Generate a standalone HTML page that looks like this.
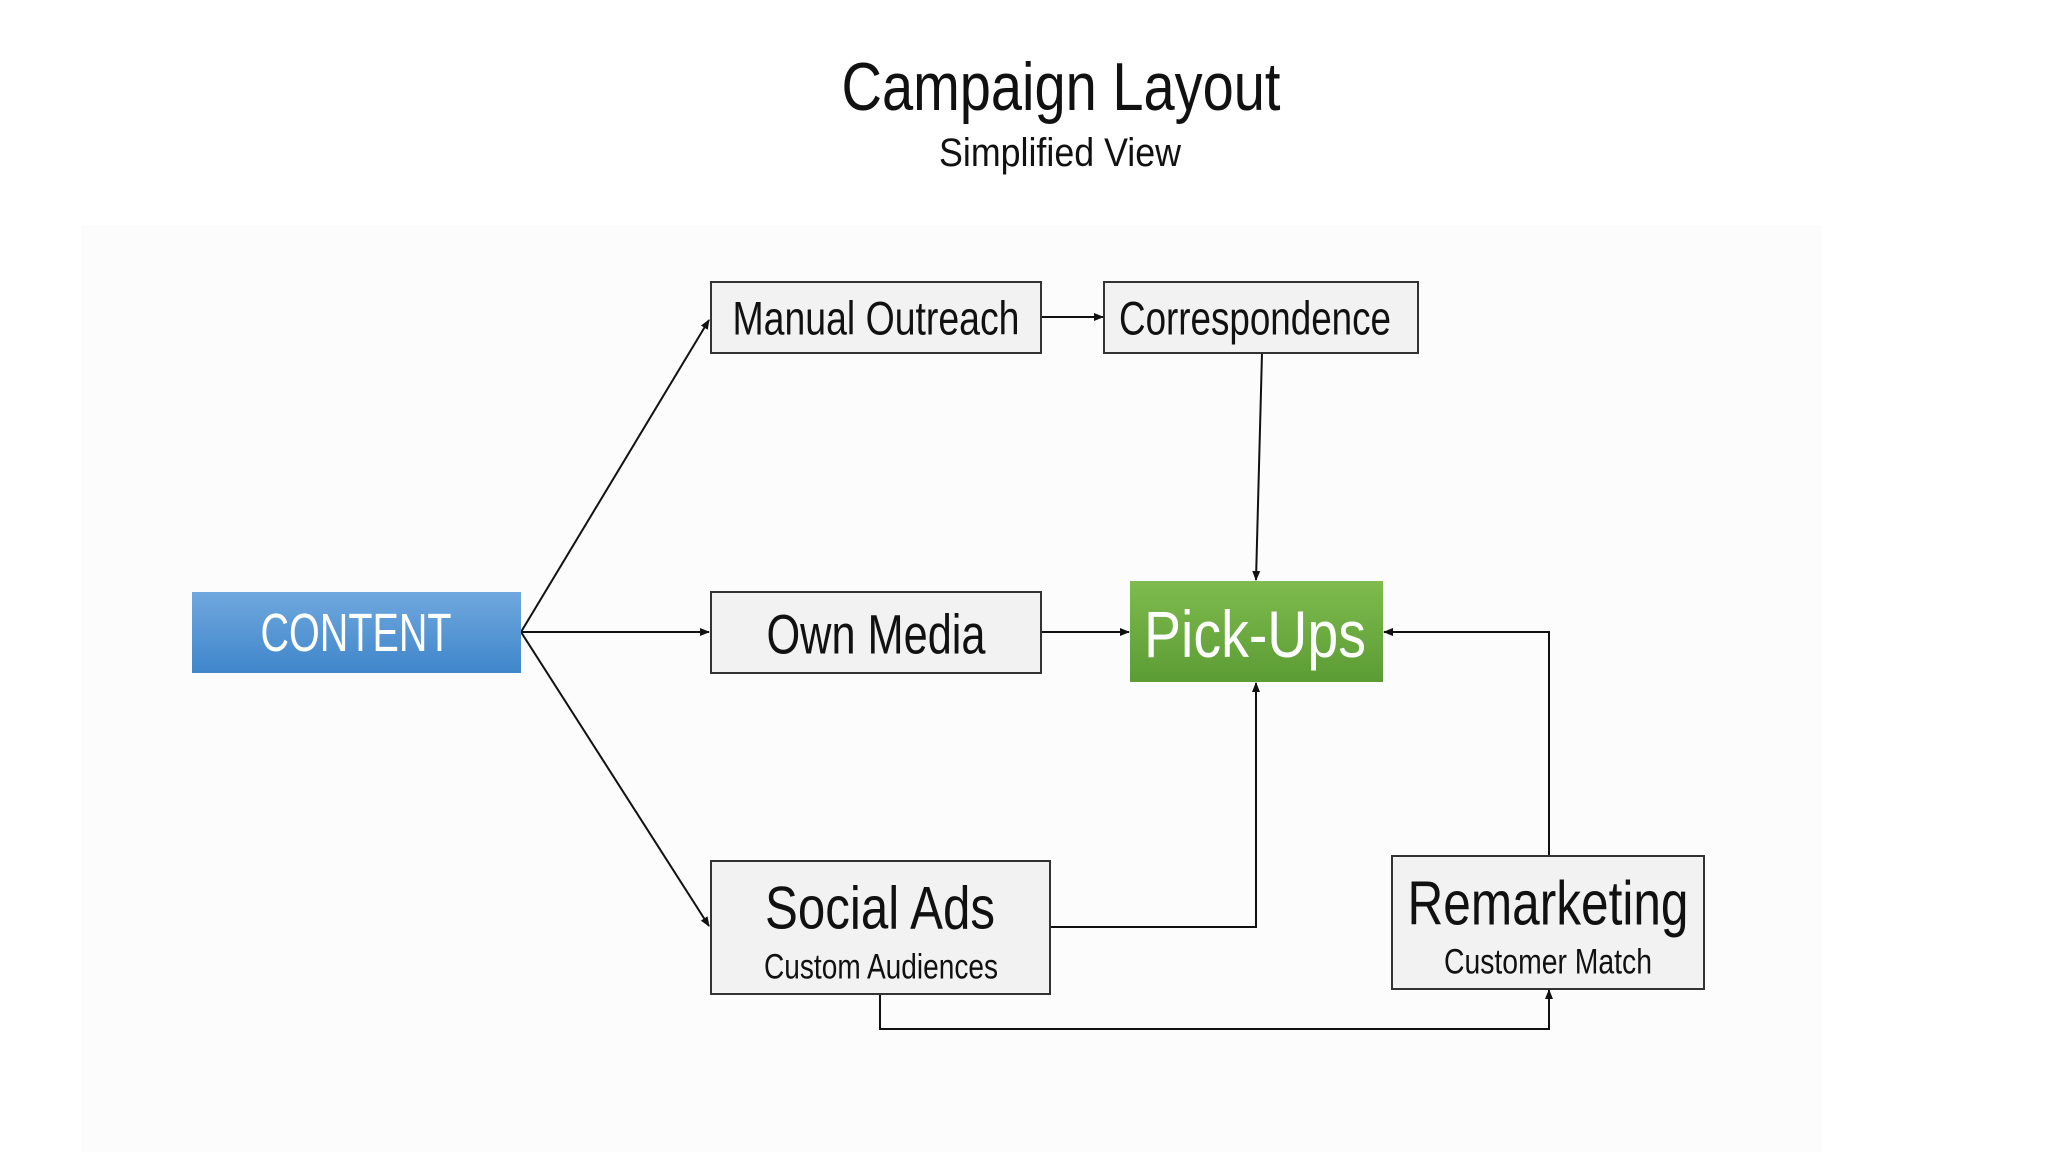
<!DOCTYPE html>
<html><head><meta charset="utf-8"><style>
html,body{margin:0;padding:0;background:#fff;width:2048px;height:1152px;overflow:hidden}
svg{display:block}
text{font-family:"Liberation Sans",sans-serif;dominant-baseline:central;text-anchor:middle}
</style></head><body>
<svg width="2048" height="1152" viewBox="0 0 2048 1152" xmlns="http://www.w3.org/2000/svg">
<defs>
<linearGradient id="blue" x1="0" y1="0" x2="0" y2="1"><stop offset="0" stop-color="#70a8de"/><stop offset="1" stop-color="#3f86cb"/></linearGradient>
<linearGradient id="green" x1="0" y1="0" x2="0" y2="1"><stop offset="0" stop-color="#7fbb4e"/><stop offset="1" stop-color="#5b9c34"/></linearGradient>
<marker id="ar" markerWidth="10" markerHeight="10" refX="9" refY="5" orient="auto" markerUnits="userSpaceOnUse"><path d="M0,1 L10,5 L0,9 z" fill="#111"/></marker>
</defs>
<rect x="0" y="0" width="2048" height="1152" fill="#fff"/>
<rect x="81" y="225" width="1741" height="927" fill="#fcfcfd"/>
<text x="1061" y="87" font-size="68" textLength="439" lengthAdjust="spacingAndGlyphs" fill="#111">Campaign Layout</text>
<text x="1060" y="153" font-size="40" textLength="242" lengthAdjust="spacingAndGlyphs" fill="#111">Simplified View</text>

<g stroke="#111" stroke-width="2" fill="none">
<line x1="521" y1="632" x2="709" y2="320" marker-end="url(#ar)"/>
<line x1="521" y1="632" x2="709" y2="632" marker-end="url(#ar)"/>
<line x1="521" y1="632" x2="709" y2="926" marker-end="url(#ar)"/>
<line x1="1041" y1="317" x2="1103" y2="317" marker-end="url(#ar)"/>
<line x1="1262" y1="353" x2="1256" y2="580" marker-end="url(#ar)"/>
<line x1="1041" y1="632" x2="1129" y2="632" marker-end="url(#ar)"/>
<polyline points="1050,927 1256,927 1256,683" marker-end="url(#ar)"/>
<polyline points="1549,855 1549,632 1384,632" marker-end="url(#ar)"/>
<polyline points="880,994 880,1029 1549,1029 1549,990" marker-end="url(#ar)"/>
</g>

<rect x="192" y="592" width="329" height="81" fill="url(#blue)"/>
<text x="356" y="633" font-size="54" textLength="191" lengthAdjust="spacingAndGlyphs" fill="#fff">CONTENT</text>

<g fill="#f2f2f3" stroke="#333" stroke-width="2">
<rect x="711" y="282" width="330" height="71"/>
<rect x="1104" y="282" width="314" height="71"/>
<rect x="711" y="592" width="330" height="81"/>
<rect x="711" y="861" width="339" height="133"/>
<rect x="1392" y="856" width="312" height="133"/>
</g>
<g fill="#111">
<text x="876" y="318" font-size="47" textLength="287" lengthAdjust="spacingAndGlyphs">Manual Outreach</text>
<text x="1255" y="318" font-size="47" textLength="272" lengthAdjust="spacingAndGlyphs">Correspondence</text>
<text x="876" y="634" font-size="56" textLength="219" lengthAdjust="spacingAndGlyphs">Own Media</text>
<text x="880" y="908" font-size="60" textLength="230" lengthAdjust="spacingAndGlyphs">Social Ads</text>
<text x="881" y="967" font-size="35" textLength="234" lengthAdjust="spacingAndGlyphs">Custom Audiences</text>
<text x="1548" y="904" font-size="62" textLength="281" lengthAdjust="spacingAndGlyphs">Remarketing</text>
<text x="1548" y="962" font-size="35" textLength="208" lengthAdjust="spacingAndGlyphs">Customer Match</text>
</g>

<rect x="1130" y="581" width="253" height="101" fill="url(#green)"/>
<text x="1255" y="634" font-size="66" textLength="222" lengthAdjust="spacingAndGlyphs" fill="#fff">Pick-Ups</text>
</svg>
</body></html>
